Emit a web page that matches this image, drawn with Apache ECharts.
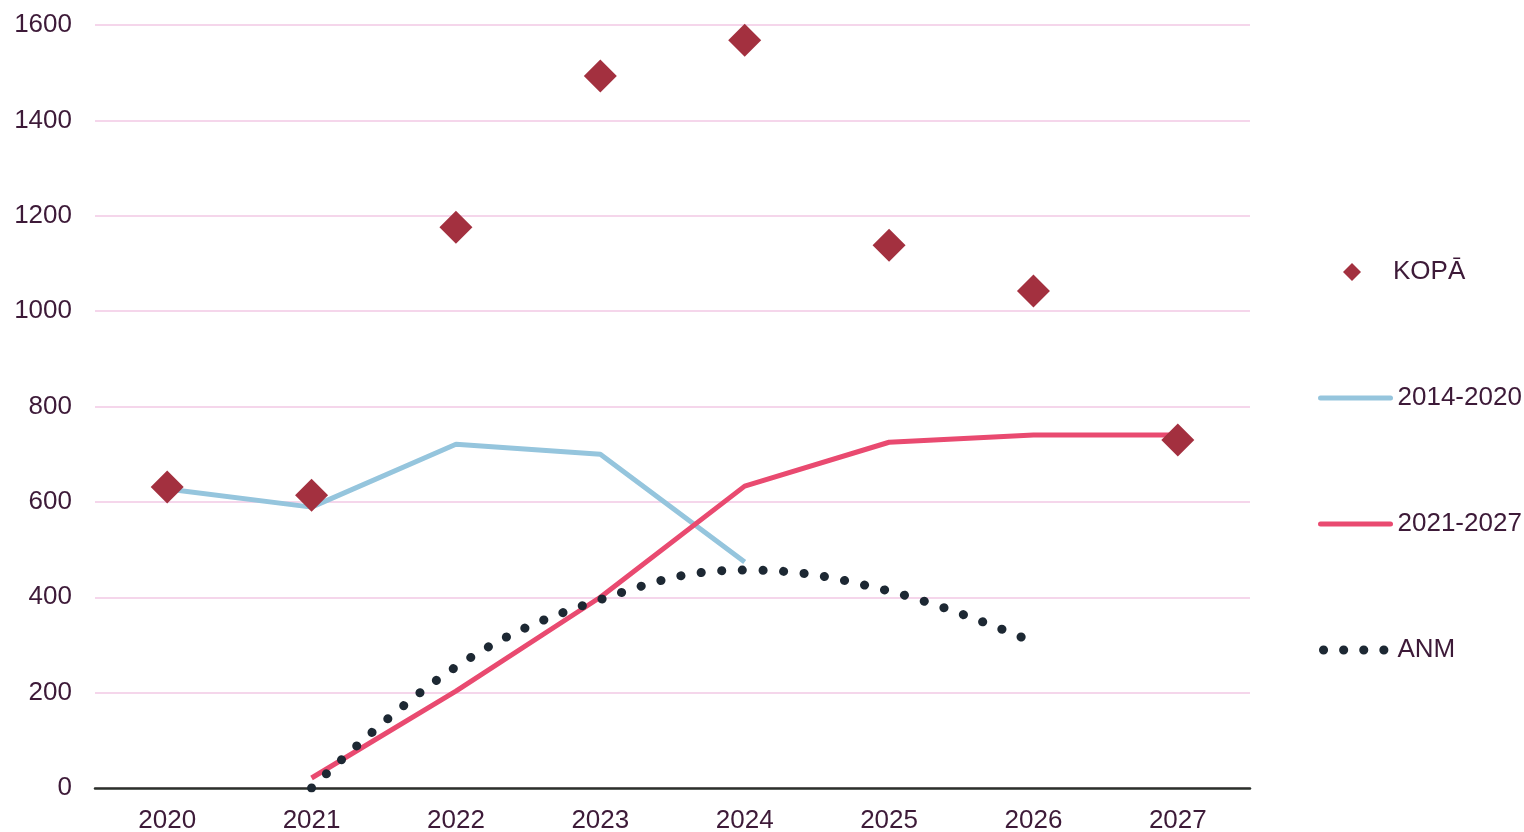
<!DOCTYPE html>
<html><head><meta charset="utf-8">
<script src="https://cdn.jsdelivr.net/npm/echarts@6/dist/echarts.min.js"></script>
<style>html,body{margin:0;padding:0;background:#fff}#c{width:1524px;height:832px}</style>
</head><body><div id="c"></div>
<script>
const years = ['2020','2021','2022','2023','2024','2025','2026','2027'];
const kopa = [631, 614, 1176, 1493, 1568, 1138, 1042, 730];
const p2014 = [627, 589, 721, 700, 474, null, null, null];
const p2021 = [null, 21, 203, 400, 633, 725, 740, 740];
const anm = [null, 0, 254, 395, 457, 413, 306, null];
const yTicks = { min: 0, max: 1600, interval: 200 };

const txt = '#3d1a38';
const font = 'Liberation Sans, Arial, sans-serif';
const fs = 26;
const chart = echarts.init(document.getElementById('c'));
chart.setOption({
  animation: false,
  textStyle: { fontFamily: font },
  grid: { left: 95, right: 274, top: 25, bottom: 44, containLabel: false, outerBoundsMode: 'none' },
  legend: [
    {
      orient: 'vertical', left: 1338, top: 254,
      itemWidth: 18, itemHeight: 18,
      textStyle: { fontSize: fs, lineHeight: 26, color: txt, fontFamily: font, padding: [0, 0, 0, 27] },
      data: [{ name: 'KOPĀ', itemStyle: { color: '#a3303f', opacity: 1 } }]
    },
    {
      orient: 'vertical', left: 1311, top: 380,
      itemWidth: 70, itemHeight: 14, itemGap: 100,
      textStyle: { fontSize: fs, lineHeight: 26, color: txt, fontFamily: font, padding: [0, 0, 0, 2] },
      data: [
        { name: '2014-2020', itemStyle: { opacity: 0 }, lineStyle: { width: 5, cap: 'round' } },
        { name: '2021-2027', itemStyle: { opacity: 0 }, lineStyle: { width: 5, cap: 'round' } },
        { name: 'ANM', itemStyle: { opacity: 0 }, lineStyle: { width: 9, type: [0.1, 20], cap: 'round', dashOffset: -3 } }
      ]
    }
  ],
  xAxis: {
    type: 'category', data: years, boundaryGap: true,
    axisLine: { lineStyle: { color: '#2b302b', width: 2.5 } },
    axisTick: { show: false },
    axisLabel: { fontSize: fs, color: txt, margin: 20, fontFamily: font },
    splitLine: { show: false }
  },
  yAxis: {
    type: 'value', min: yTicks.min, max: yTicks.max, interval: yTicks.interval,
    axisLine: { show: false }, axisTick: { show: false },
    axisLabel: { fontSize: fs, color: txt, margin: 23, fontFamily: font, formatter: v => String(v) },
    splitLine: { lineStyle: { color: '#f2c9e4', width: 1.5 } }
  },
  series: [
    { name: '2014-2020', type: 'line', data: p2014, showSymbol: false, symbol: 'none',
      lineStyle: { color: '#95c5dd', width: 5 }, itemStyle: { color: '#95c5dd' }, z: 2 },
    { name: '2021-2027', type: 'line', data: p2021, showSymbol: false, symbol: 'none',
      lineStyle: { color: '#e94a70', width: 5 }, itemStyle: { color: '#e94a70' }, z: 2 },
    { name: 'ANM', type: 'line', data: anm, smooth: 0.4, showSymbol: false, symbol: 'none',
      lineStyle: { color: '#1d2833', width: 9, type: [0.1, 20.5], cap: 'round' },
      itemStyle: { color: '#1d2833' }, z: 3 },
    { name: 'KOPĀ', type: 'scatter', data: kopa, symbol: 'diamond', symbolSize: 33,
      itemStyle: { color: '#a3303f', opacity: 1 }, z: 5 }
  ]
});
</script></body></html>
